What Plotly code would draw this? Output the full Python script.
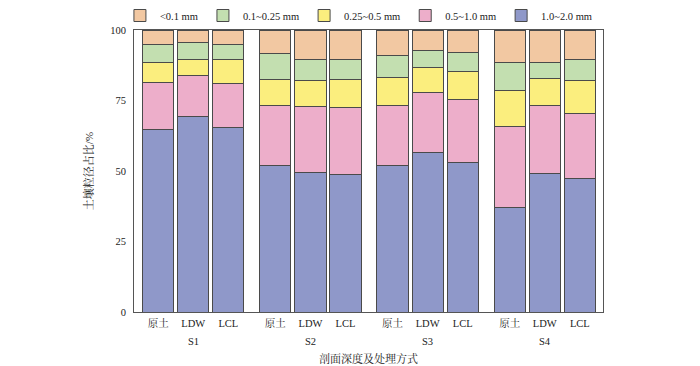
import plotly.graph_objects as go

groups = ["S1", "S2", "S3", "S4"]
treatments = ["原土", "LDW", "LCL"]

# cumulative tops (bottom-up), per bar in order S1..S4 x 原土/LDW/LCL
blue_top = [64.7, 69.2, 65.5, 51.8, 49.6, 48.8, 52.0, 56.6, 52.9, 36.9, 49.1, 47.2]
pink_top = [81.3, 83.7, 80.9, 73.4, 72.7, 72.4, 73.1, 78.0, 75.2, 65.9, 73.1, 70.3]
yellow_top = [88.5, 89.6, 89.4, 82.6, 82.0, 82.6, 83.1, 86.8, 85.2, 78.6, 82.9, 82.0]
green_top = [94.7, 95.5, 94.9, 91.6, 89.7, 89.6, 90.9, 92.7, 91.9, 88.5, 88.5, 89.4]

s_10_20 = blue_top
s_05_10 = [round(p - b, 1) for p, b in zip(pink_top, blue_top)]
s_025_05 = [round(y - p, 1) for y, p in zip(yellow_top, pink_top)]
s_01_025 = [round(g - y, 1) for g, y in zip(green_top, yellow_top)]
s_lt01 = [round(100 - g, 1) for g in green_top]

series_names = ["<0.1 mm", "0.1~0.25 mm", "0.25~0.5 mm", "0.5~1.0 mm", "1.0~2.0 mm"]
series_vals = [s_lt01, s_01_025, s_025_05, s_05_10, s_10_20]
colors = ["#F2C8A2", "#C3DFB0", "#FBEE7E", "#EDAECA", "#8F98C9"]

GROUP_PITCH = 3.34
xpos = [g * GROUP_PITCH + i for g in range(len(groups)) for i in range(len(treatments))]
ticktext = [t for g in groups for t in treatments]
group_centers = [g * GROUP_PITCH + 1 for g in range(len(groups))]

FONT = "Times New Roman, Liberation Serif, Noto Serif CJK SC, Noto Sans CJK SC, serif"

fig = go.Figure()
order = list(range(len(series_names)))[::-1]
for k in order:
    fig.add_trace(go.Bar(
        x=xpos, y=series_vals[k], name=series_names[k].replace("<", "&lt;"),
        marker=dict(color=colors[k], line=dict(color="#4a4a4a", width=1)),
        width=0.89, legendrank=k + 1,
    ))

for gx, gname in zip(group_centers, groups):
    fig.add_annotation(x=gx, xref="x", y=0, yref="paper", yanchor="middle",
                       yshift=-29, text=gname, showarrow=False, font=dict(size=10.5))
fig.add_annotation(x=0.5, xref="paper", y=0, yref="paper", yanchor="middle",
                   yshift=-46, text="剖面深度及处理方式", showarrow=False,
                   font=dict(size=11))

# page body has an 8px margin, so the figure is drawn 8px right/down
fig.update_layout(
    barmode="stack",
    width=692, height=358,
    margin=dict(l=126, r=97, t=22, b=54, autoexpand=False),
    plot_bgcolor="white", paper_bgcolor="white",
    font=dict(family=FONT, size=11, color="#222"),
    legend=dict(orientation="h", x=-0.03, xanchor="left", y=1.0, yanchor="bottom",
                bgcolor="rgba(0,0,0,0)",
                font=dict(size=10.5), traceorder="normal"),
    xaxis=dict(range=[-0.69, 12.68], tickvals=xpos, ticktext=ticktext,
               showgrid=False, zeroline=False, showline=True, linecolor="#555",
               linewidth=1, mirror=True, ticks="", tickfont=dict(size=10.5),
               ticklabelstandoff=1),
    yaxis=dict(range=[0, 100], tickvals=[0, 25, 50, 75, 100], showgrid=False,
               zeroline=False, showline=True, linecolor="#555", linewidth=1,
               mirror=True, ticks="", tickfont=dict(size=10.5), ticklabelstandoff=5,
               title=dict(text="土壤粒径占比/%", font=dict(size=11, color="#222"),
                          standoff=14)),
)

fig.write_html("out.html")
